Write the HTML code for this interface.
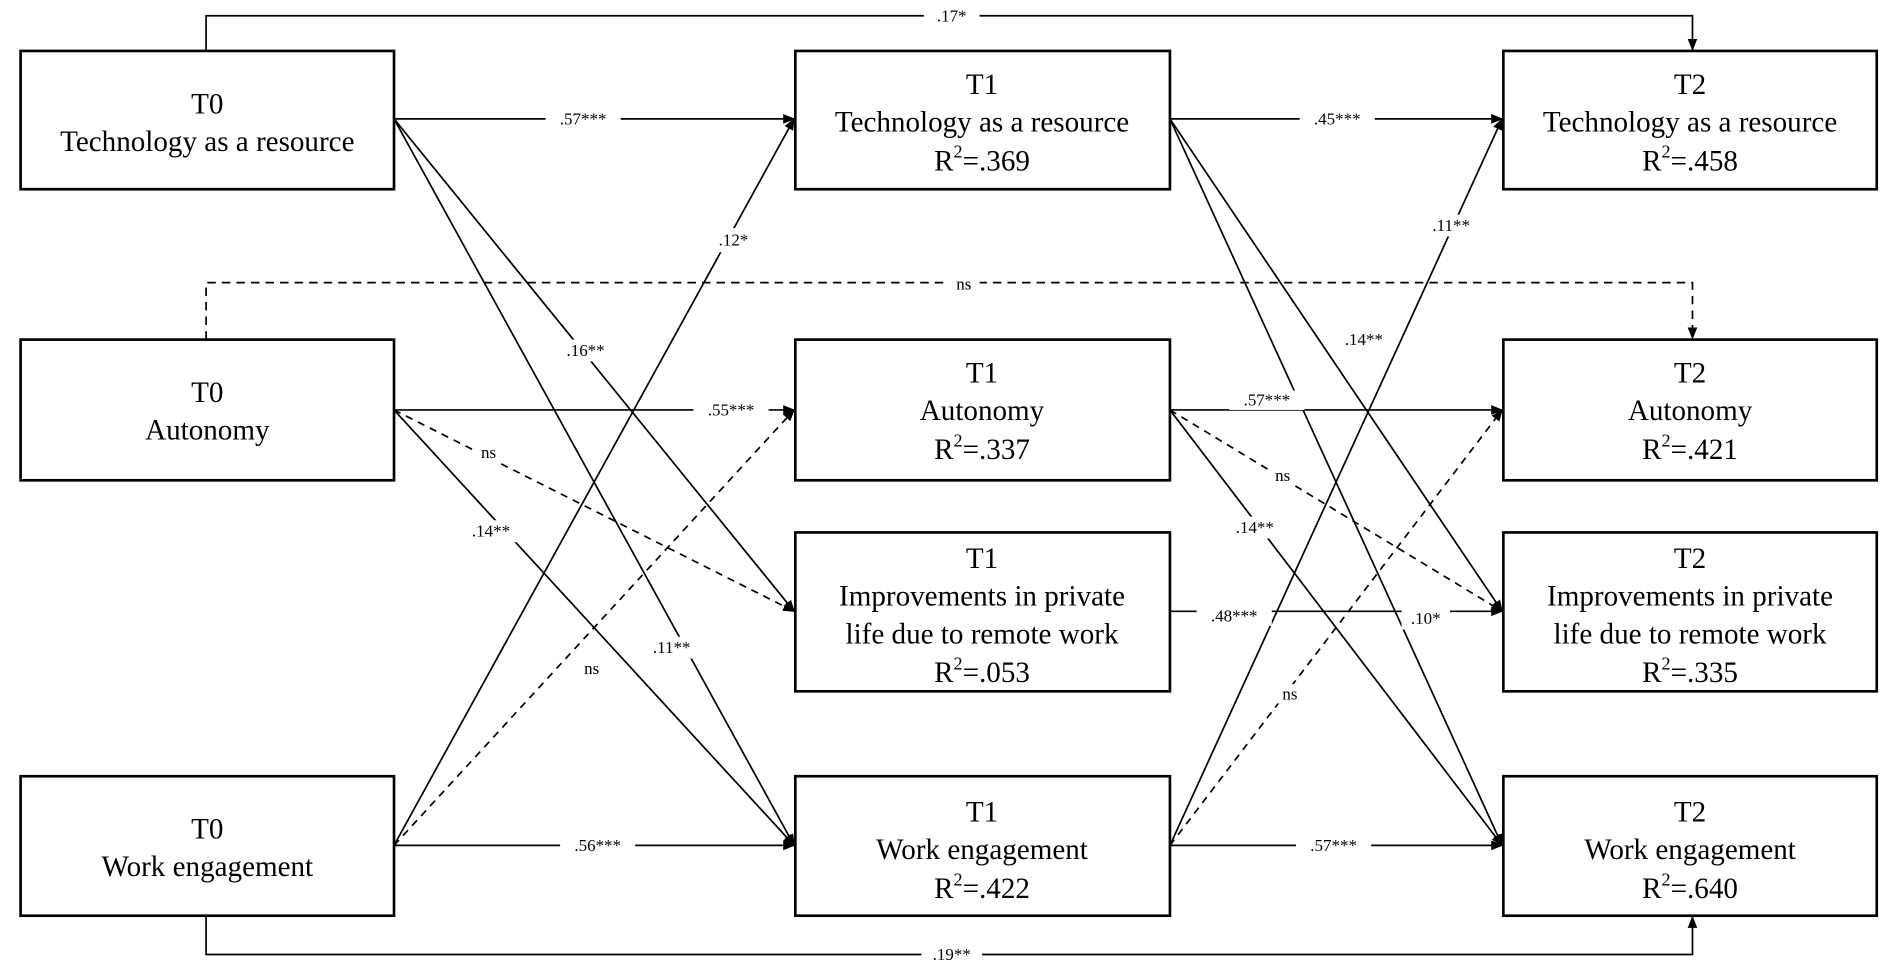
<!DOCTYPE html>
<html><head><meta charset="utf-8"><style>html,body{margin:0;padding:0;background:#fff}svg{display:block}</style></head>
<body>
<svg width="1901" height="980" viewBox="0 0 1568 808" preserveAspectRatio="none" xmlns="http://www.w3.org/2000/svg" font-family="'Liberation Serif', serif">
<defs><marker id="a" markerWidth="10" markerHeight="10" refX="9" refY="5" orient="auto" markerUnits="userSpaceOnUse"><path d="M0,1 L10,5 L0,9 z" fill="#000"/></marker></defs>
<g stroke="#000" stroke-width="1.4" fill="none">
<polyline points="170,42 170,13 1396,13 1396,41" marker-end="url(#a)"/>
<polyline points="170,280 170,233 1396,233 1396,279" stroke-dasharray="7,5" marker-end="url(#a)"/>
<polyline points="170,755 170,787 1396,787 1396,756" marker-end="url(#a)"/>
<line x1="325" y1="98" x2="655" y2="98" marker-end="url(#a)"/>
<line x1="325" y1="98" x2="655" y2="504" marker-end="url(#a)"/>
<line x1="325" y1="98" x2="655" y2="697" marker-end="url(#a)"/>
<line x1="325" y1="338" x2="655" y2="338" marker-end="url(#a)"/>
<line x1="325" y1="338" x2="655" y2="504" stroke-dasharray="6,5" marker-end="url(#a)"/>
<line x1="325" y1="338" x2="655" y2="697" marker-end="url(#a)"/>
<line x1="325" y1="697" x2="655" y2="98" marker-end="url(#a)"/>
<line x1="325" y1="697" x2="655" y2="338" stroke-dasharray="6,5" marker-end="url(#a)"/>
<line x1="325" y1="697" x2="655" y2="697" marker-end="url(#a)"/>
<line x1="965" y1="98" x2="1239" y2="98" marker-end="url(#a)"/>
<line x1="965" y1="98" x2="1239" y2="504" marker-end="url(#a)"/>
<line x1="965" y1="98" x2="1239" y2="697" marker-end="url(#a)"/>
<line x1="965" y1="338" x2="1239" y2="338" marker-end="url(#a)"/>
<line x1="965" y1="338" x2="1239" y2="504" stroke-dasharray="6,5" marker-end="url(#a)"/>
<line x1="965" y1="338" x2="1239" y2="697" marker-end="url(#a)"/>
<line x1="965" y1="504" x2="1239" y2="504" marker-end="url(#a)"/>
<line x1="965" y1="697" x2="1239" y2="98" marker-end="url(#a)"/>
<line x1="965" y1="697" x2="1239" y2="338" stroke-dasharray="6,5" marker-end="url(#a)"/>
<line x1="965" y1="697" x2="1239" y2="697" marker-end="url(#a)"/>
</g>
<g font-size="14" text-anchor="middle" dominant-baseline="central">
<g fill="#fff"><rect x="762" y="5" width="46" height="16"/><rect x="782" y="226" width="26" height="16"/><rect x="760" y="779" width="50" height="16"/>
<rect x="450" y="90" width="62" height="16"/><rect x="460" y="280" width="46" height="18"/><rect x="531" y="525" width="46" height="18"/>
<rect x="572" y="330" width="62" height="16"/><rect x="392" y="365" width="22" height="16"/><rect x="382" y="429" width="46" height="18"/>
<rect x="584" y="188" width="42" height="20"/><rect x="477" y="543" width="22" height="16"/><rect x="462" y="689" width="62" height="16"/>
<rect x="1072" y="90" width="62" height="16"/><rect x="1102" y="271" width="46" height="18"/><rect x="1156" y="501" width="40" height="18"/>
<rect x="1014" y="322" width="62" height="16"/><rect x="1047" y="384" width="22" height="16"/><rect x="1012" y="426" width="46" height="18"/>
<rect x="987" y="500" width="62" height="16"/><rect x="1174" y="177" width="46" height="18"/><rect x="1053" y="564" width="22" height="16"/><rect x="1069" y="689" width="62" height="16"/></g>
<text x="785" y="13">.17*</text><text x="795" y="234">ns</text><text x="785" y="787">.19**</text>
<text x="481" y="98">.57***</text><text x="483" y="289">.16**</text><text x="554" y="534">.11**</text>
<text x="603" y="338">.55***</text><text x="403" y="373">ns</text><text x="405" y="438">.14**</text>
<text x="605" y="198">.12*</text><text x="488" y="551">ns</text><text x="493" y="697">.56***</text>
<text x="1103" y="98">.45***</text><text x="1125" y="280">.14**</text><text x="1176" y="510">.10*</text>
<text x="1045" y="330">.57***</text><text x="1058" y="392">ns</text><text x="1035" y="435">.14**</text>
<text x="1018" y="508">.48***</text><text x="1197" y="186">.11**</text><text x="1064" y="572">ns</text><text x="1100" y="697">.57***</text>
</g>
<g fill="#fff" stroke="#000" stroke-width="2.2">
<rect x="17" y="42" width="308" height="114"/><rect x="17" y="280" width="308" height="116"/><rect x="17" y="640" width="308" height="115"/>
<rect x="656" y="42" width="309" height="114"/><rect x="656" y="280" width="309" height="116"/><rect x="656" y="439" width="309" height="131"/><rect x="656" y="640" width="309" height="115"/>
<rect x="1240" y="42" width="308" height="114"/><rect x="1240" y="280" width="308" height="116"/><rect x="1240" y="439" width="308" height="131"/><rect x="1240" y="640" width="308" height="115"/>
</g>
<g font-size="24" text-anchor="middle" dominant-baseline="central">
<text x="171" y="86">T0</text><text x="171" y="117">Technology as a resource</text>
<text x="171" y="324">T0</text><text x="171" y="355">Autonomy</text>
<text x="171" y="684">T0</text><text x="171" y="715">Work engagement</text>
<text x="810" y="70">T1</text><text x="810" y="101">Technology as a resource</text><text x="810" y="133">R<tspan font-size="15" dy="-8">2</tspan><tspan dy="8">=.369</tspan></text>
<text x="810" y="308">T1</text><text x="810" y="339">Autonomy</text><text x="810" y="371">R<tspan font-size="15" dy="-8">2</tspan><tspan dy="8">=.337</tspan></text>
<text x="810" y="461">T1</text><text x="810" y="492">Improvements in private</text><text x="810" y="523">life due to remote work</text><text x="810" y="555">R<tspan font-size="15" dy="-8">2</tspan><tspan dy="8">=.053</tspan></text>
<text x="810" y="670">T1</text><text x="810" y="701">Work engagement</text><text x="810" y="733">R<tspan font-size="15" dy="-8">2</tspan><tspan dy="8">=.422</tspan></text>
<text x="1394" y="70">T2</text><text x="1394" y="101">Technology as a resource</text><text x="1394" y="133">R<tspan font-size="15" dy="-8">2</tspan><tspan dy="8">=.458</tspan></text>
<text x="1394" y="308">T2</text><text x="1394" y="339">Autonomy</text><text x="1394" y="371">R<tspan font-size="15" dy="-8">2</tspan><tspan dy="8">=.421</tspan></text>
<text x="1394" y="461">T2</text><text x="1394" y="492">Improvements in private</text><text x="1394" y="523">life due to remote work</text><text x="1394" y="555">R<tspan font-size="15" dy="-8">2</tspan><tspan dy="8">=.335</tspan></text>
<text x="1394" y="670">T2</text><text x="1394" y="701">Work engagement</text><text x="1394" y="733">R<tspan font-size="15" dy="-8">2</tspan><tspan dy="8">=.640</tspan></text>
</g>
</svg>
</body></html>
